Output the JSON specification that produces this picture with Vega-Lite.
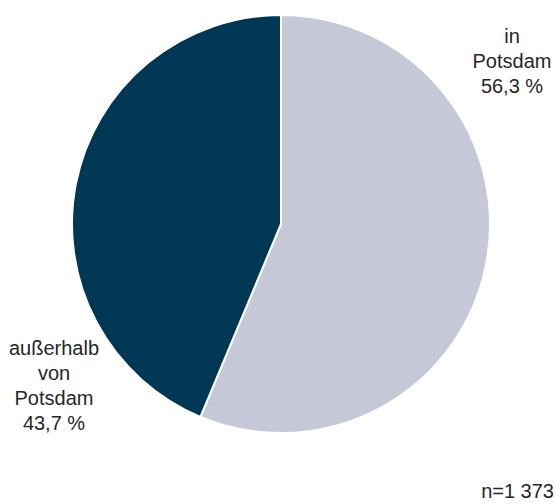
{
  "$schema": "https://vega.github.io/schema/vega-lite/v6.json",
  "width": 550,
  "height": 448,
  "padding": {"left": 6, "top": 0, "right": 0, "bottom": 56},
  "autosize": "none",
  "background": "white",
  "config": {"view": {"stroke": null}},
  "title": {
    "text": "n=1 373",
    "orient": "bottom",
    "anchor": "end",
    "frame": "group",
    "baseline": "alphabetic",
    "offset": 50,
    "dx": -2,
    "fontSize": 20,
    "font": "Liberation Sans",
    "fontWeight": "normal",
    "color": "#262626"
  },
  "data": {
    "values": [
      {"ort": "in Potsdam", "anteil": 56.3, "rang": 1, "beschriftung": "in\nPotsdam\n56,3 %"},
      {"ort": "außerhalb von Potsdam", "anteil": 43.7, "rang": 2, "beschriftung": "außerhalb\nvon\nPotsdam\n43,7 %"}
    ]
  },
  "encoding": {
    "theta": {"field": "anteil", "type": "quantitative", "stack": true},
    "order": {"field": "rang", "type": "quantitative"}
  },
  "layer": [
    {
      "mark": {"type": "arc", "outerRadius": 209, "stroke": "white", "strokeWidth": 2},
      "encoding": {
        "color": {
          "field": "ort",
          "type": "nominal",
          "scale": {"domain": ["in Potsdam", "außerhalb von Potsdam"], "range": ["#c5c9d7", "#003755"]},
          "legend": null
        }
      }
    },
    {
      "transform": [{"filter": "datum.rang == 1"}],
      "mark": {"type": "text", "radius": 0, "dx": 231, "dy": -181, "align": "center", "baseline": "alphabetic", "lineBreak": "\n", "lineHeight": 25, "fontSize": 20, "font": "Liberation Sans", "color": "#262626"},
      "encoding": {"text": {"field": "beschriftung", "type": "nominal"}}
    },
    {
      "transform": [{"filter": "datum.rang == 2"}],
      "mark": {"type": "text", "radius": 0, "dx": -227, "dy": 131, "align": "center", "baseline": "alphabetic", "lineBreak": "\n", "lineHeight": 25, "fontSize": 20, "font": "Liberation Sans", "color": "#262626"},
      "encoding": {"text": {"field": "beschriftung", "type": "nominal"}}
    }
  ]
}
